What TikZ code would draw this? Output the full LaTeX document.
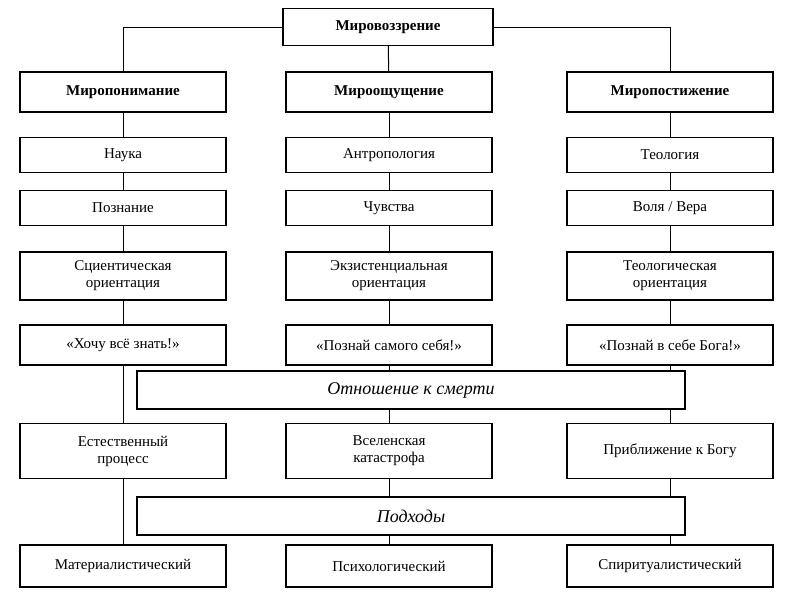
\documentclass[tikz,border=0pt]{standalone}
\usepackage{fontspec}
\setmainfont{Liberation Serif}
\begin{document}
\begin{tikzpicture}[x=1pt,y=-1pt,
  box/.style={draw,line width=1.1pt,fill=white,minimum width=206pt,align=center,font=\fontsize{15}{17}\selectfont,inner sep=1pt},
  head/.style={box,font=\fontsize{15}{17}\selectfont\bfseries},
  bar/.style={draw,line width=1.1pt,fill=white,minimum width=548pt,minimum height=38pt,font=\fontsize{18}{20}\selectfont\itshape},
  link/.style={line width=1pt}]
\useasboundingbox (0,0) rectangle (800,600);
% Shape: top
\node[head,minimum width=210pt,minimum height=37pt] (top) at (388,27) {Мировоззрение};
% Columns
\foreach \c/\x/\a/\b/\cc/\d/\e/\f/\g in {
  l/123/Миропонимание/Наука/Познание/Сциентическая\\ориентация/«Хочу всё знать!»/Естественный\\процесс/Материалистический,
  m/389/Мироощущение/Антропология/Чувства/Экзистенциальная\\ориентация/«Познай самого себя!»/Вселенская\\катастрофа/Психологический,
  r/670/Миропостижение/Теология/{Воля / Вера}/Теологическая\\ориентация/«Познай в себе Бога!»/Приближение к Богу/Спиритуалистический}{
  \node[head,minimum height=40pt] (\c1) at (\x,92) {\a};
  \node[box,minimum height=35pt] (\c2) at (\x,155) {\b};
  \node[box,minimum height=35pt] (\c3) at (\x,208) {\cc};
  \node[box,minimum height=48pt] (\c4) at (\x,276) {\d};
  \node[box,minimum height=40pt] (\c5) at (\x,345) {\e};
  \node[box,minimum height=55pt] (\c6) at (\x,451) {\f};
  \node[box,minimum height=42pt] (\c7) at (\x,566) {\g};
  \draw[link] (\c1) -- (\c2) (\c2) -- (\c3) (\c3) -- (\c4) (\c4) -- (\c5)
    (\c5) -- (\c6) (\c6) -- (\c7);
}
% Lines from top
\draw[link] (top.west) -| (l1.north);
\draw[link] (top.east) -| (r1.north);
\draw[link] (top) -- (m1);
% Bars
\node[bar] (death) at (411,390) {Отношение к смерти};
\node[bar] (ways) at (411,516) {Подходы};
\end{tikzpicture}
\end{document}
